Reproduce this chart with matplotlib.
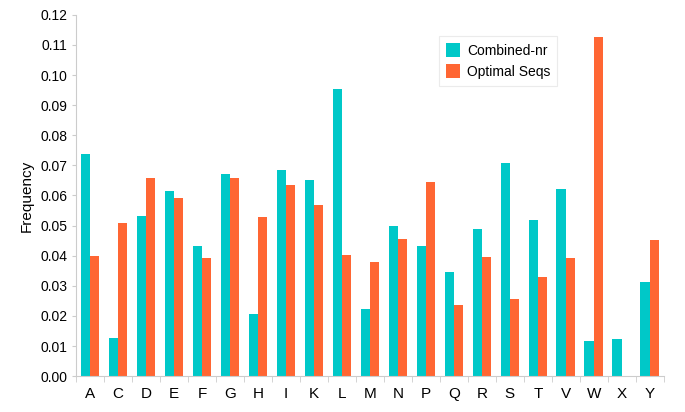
import numpy as np
import matplotlib
matplotlib.use("Agg")
import matplotlib.pyplot as plt

plt.rcParams['font.family'] = ['Liberation Sans', 'DejaVu Sans']

residues = ["A", "C", "D", "E", "F", "G", "H", "I", "K", "L", "M",
            "N", "P", "Q", "R", "S", "T", "V", "W", "X", "Y"]
combined_nr = [0.0737, 0.0127, 0.0533, 0.0615, 0.0432, 0.0673, 0.0205,
               0.0685, 0.0653, 0.0954, 0.0223, 0.0499, 0.0431, 0.0346,
               0.0488, 0.0708, 0.0519, 0.0621, 0.0117, 0.0122, 0.0314]
optimal_seqs = [0.0398, 0.0508, 0.0657, 0.0592, 0.0392, 0.0658, 0.0528,
                0.0635, 0.0568, 0.0403, 0.0379, 0.0456, 0.0644, 0.0235,
                0.0397, 0.0255, 0.0330, 0.0391, 0.1125, 0.0, 0.0452]

teal = "#00C8C8"
orange = "#FF6633"
grey = "#cccccc"

fig = plt.figure(figsize=(6.85, 4.12), dpi=100)
ax = fig.add_axes([0.111, 0.087, 0.858, 0.877])

x = np.arange(len(residues))
w = 0.333
ax.bar(x - w / 2, combined_nr, w, color=teal, label="Combined-nr")
ax.bar(x + w / 2, optimal_seqs, w, color=orange, label="Optimal Seqs")

ax.set_xlim(-0.5, len(residues) - 0.5)
ax.set_ylim(0, 0.12)
ax.set_yticks(np.arange(0, 0.121, 0.01))
ax.set_yticklabels(["%.2f" % v for v in np.arange(0, 0.121, 0.01)], fontsize=10)
ax.set_xticks(x)
ax.set_xticklabels(residues, fontsize=11)
ax.set_xticks(np.arange(-0.5, len(residues)), minor=True)
ax.tick_params(axis="x", which="major", length=0, pad=8)
ax.tick_params(axis="x", which="minor", length=4, color=grey)
ax.tick_params(axis="y", length=3, color=grey, pad=3)
ax.set_ylabel("Frequency", fontsize=11, labelpad=5)

for side in ["top", "right"]:
    ax.spines[side].set_visible(False)
for side in ["left", "bottom"]:
    ax.spines[side].set_color(grey)
    ax.spines[side].set_linewidth(0.8)

leg = ax.legend(loc="upper left", bbox_to_anchor=(0.606, 0.96), fontsize=10,
                frameon=True, fancybox=False, handlelength=1.0, handleheight=1.2,
                handletextpad=0.5, borderpad=0.5, labelspacing=0.45)
leg.get_frame().set_edgecolor("#e6e6e6")
leg.get_frame().set_linewidth(0.8)

fig.savefig("out.png", dpi=100)
